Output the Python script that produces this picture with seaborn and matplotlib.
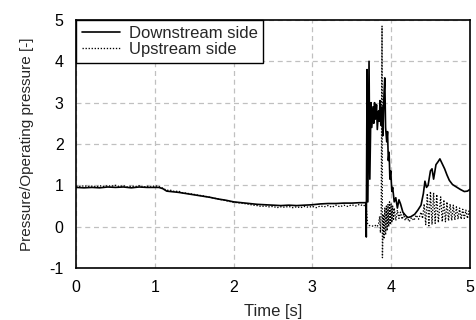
import matplotlib
matplotlib.use("Agg")
import matplotlib.pyplot as plt
import seaborn as sns
import pandas as pd

# Downstream side pressure ratio (time [s], value [-])
down_t = [0.00, 0.10, 0.20, 0.30, 0.40, 0.50, 0.60, 0.70, 0.80, 0.90, 1.00, 1.05,
          1.10, 1.15, 1.20, 1.30, 1.40, 1.50, 1.60, 1.70, 1.80, 1.90, 2.00, 2.10,
          2.20, 2.30, 2.40, 2.50, 2.60, 2.70, 2.80, 2.90, 3.00, 3.10, 3.20, 3.30,
          3.40, 3.50, 3.60, 3.68,
          3.685, 3.695, 3.705, 3.72, 3.73, 3.745, 3.755, 3.77, 3.78, 3.79, 3.80,
          3.815, 3.825, 3.84, 3.85, 3.86, 3.87, 3.885, 3.895, 3.91, 3.92, 3.93,
          3.945, 3.955, 3.965, 3.975, 3.985, 3.995, 4.01, 4.02, 4.04, 4.06, 4.08,
          4.10, 4.12, 4.15, 4.18, 4.21, 4.25, 4.30, 4.34, 4.38, 4.41, 4.43, 4.45,
          4.47, 4.50, 4.52, 4.54, 4.57, 4.60, 4.62, 4.65, 4.68, 4.71, 4.74, 4.78,
          4.83, 4.88, 4.93, 4.97, 5.00]
down_v = [0.95, 0.94, 0.95, 0.94, 0.96, 0.95, 0.96, 0.94, 0.96, 0.95, 0.95, 0.95,
          0.92, 0.86, 0.85, 0.83, 0.80, 0.77, 0.74, 0.71, 0.67, 0.64, 0.60, 0.58,
          0.56, 0.54, 0.53, 0.52, 0.51, 0.52, 0.51, 0.52, 0.53, 0.55, 0.56, 0.56,
          0.57, 0.57, 0.58, 0.58,
          -0.25, 3.80, 0.60, 4.00, 1.15, 3.00, 2.40, 2.90, 2.50, 3.00, 2.60,
          2.95, 2.35, 2.80, 2.55, 3.05, 2.45, 2.90, 2.20, 3.20, 3.60, 2.40,
          2.05, 2.30, 1.60, 1.80, 1.15, 1.35, 0.85, 0.95, 0.60, 0.70, 0.45,
          0.65, 0.55, 0.35, 0.28, 0.22, 0.24, 0.30, 0.40, 0.52, 0.80, 1.10, 0.95,
          1.00, 1.35, 1.40, 1.15, 1.50, 1.58, 1.64, 1.52, 1.40, 1.25, 1.12, 1.02,
          0.96, 0.90, 0.85, 0.86, 0.90]

# Upstream side pressure ratio (time [s], value [-])
up_t = [0.00, 0.05, 0.10, 0.15, 0.20, 0.25, 0.30, 0.35, 0.40, 0.45, 0.50, 0.55,
        0.60, 0.65, 0.70, 0.75, 0.80, 0.85, 0.90, 0.95, 1.00, 1.05, 1.10, 1.15,
        1.20, 1.25, 1.30, 1.35, 1.40, 1.50, 1.55, 1.60, 1.70, 1.80, 1.90, 2.00,
        2.10, 2.20, 2.25, 2.30, 2.35, 2.40, 2.45, 2.50, 2.55, 2.60, 2.65, 2.70,
        2.75, 2.80, 2.85, 2.90, 2.95, 3.00, 3.05, 3.10, 3.15, 3.20, 3.25, 3.30,
        3.35, 3.40, 3.45, 3.50, 3.55, 3.60, 3.65, 3.68,
        3.69, 3.70, 3.72, 3.75, 3.78, 3.80, 3.82, 3.84, 3.855, 3.865, 3.875,
        3.885, 3.89, 3.90, 3.91, 3.92, 3.93, 3.94, 3.95, 3.96, 3.97, 3.98, 3.99,
        4.00, 4.01, 4.02, 4.03, 4.04, 4.06, 4.08, 4.10, 4.12, 4.14, 4.16, 4.18,
        4.20, 4.23, 4.26, 4.29, 4.32, 4.35, 4.38, 4.40, 4.42, 4.44, 4.46, 4.48,
        4.50, 4.52, 4.54, 4.56, 4.58, 4.60, 4.63, 4.65, 4.67, 4.69, 4.71, 4.73,
        4.75, 4.77, 4.79, 4.81, 4.83, 4.85, 4.87, 4.89, 4.91, 4.93, 4.95, 4.97,
        4.99, 5.00]
up_v = [0.98, 0.97, 0.99, 0.97, 0.98, 0.96, 0.99, 0.97, 0.99, 0.98, 1.00, 0.97,
        0.99, 0.96, 0.98, 0.97, 0.99, 0.95, 0.98, 0.96, 0.99, 0.97, 0.93, 0.88,
        0.88, 0.85, 0.86, 0.82, 0.81, 0.78, 0.76, 0.75, 0.71, 0.67, 0.63, 0.59,
        0.57, 0.54, 0.52, 0.51, 0.49, 0.50, 0.48, 0.49, 0.46, 0.48, 0.47, 0.49,
        0.46, 0.48, 0.46, 0.49, 0.47, 0.49, 0.46, 0.50, 0.48, 0.51, 0.47, 0.52,
        0.48, 0.52, 0.49, 0.53, 0.50, 0.54, 0.50, 0.54,
        0.35, 0.08, 0.03, 0.02, 0.01, 0.03, 0.00, 0.05, 0.25, -0.15, 0.40,
        4.85, -0.75, 0.30, -0.30, 0.45, -0.20, 0.50, -0.10, 0.55, 0.00, 0.60, 0.05,
        0.55, 0.10, 0.50, 0.15, 0.45, 0.15, 0.40, 0.20, 0.35, 0.18, 0.30, 0.15,
        0.25, 0.12, 0.22, 0.15, 0.28, 0.18, 0.35, 0.20, 0.55, 0.05, 0.80, 0.02,
        0.85, 0.05, 0.82, 0.08, 0.78, 0.10, 0.72, 0.12, 0.65, 0.12, 0.60, 0.14,
        0.55, 0.15, 0.52, 0.16, 0.48, 0.18, 0.45, 0.18, 0.42, 0.20, 0.40, 0.20,
        0.38, 0.30]

x_ticks = [0, 1, 2, 3, 4, 5]
y_ticks = [-1, 0, 1, 2, 3, 4, 5]

sns.set_theme(style="white")
plt.rcParams["font.family"] = ["Liberation Sans", "DejaVu Sans"]
plt.rcParams["axes.unicode_minus"] = False

down_df = pd.DataFrame({"t": down_t, "v": down_v})
up_df = pd.DataFrame({"t": up_t, "v": up_v})

fig = plt.figure(figsize=(4.76, 3.2), dpi=100)
ax = fig.add_axes([0.16, 0.1625, 0.827, 0.775])

sns.lineplot(data=down_df, x="t", y="v", ax=ax, color="black", linewidth=1.2,
             linestyle="-", label="Downstream side", sort=False, estimator=None)
sns.lineplot(data=up_df, x="t", y="v", ax=ax, color="black", linewidth=0.95,
             linestyle=(0, (1, 1.3)), label="Upstream side", sort=False, estimator=None)

ax.set_xlim(0, 5)
ax.set_ylim(-1, 5)
ax.set_xticks(x_ticks)
ax.set_yticks(y_ticks)
ax.set_xlabel("Time [s]", fontsize=12, labelpad=6)
ax.set_ylabel("Pressure/Operating pressure [-]", fontsize=11, labelpad=11)
ax.tick_params(axis="both", direction="in", length=3, width=0.8, labelsize=11.5,
               colors="black", pad=9)
ax.grid(True, color="#c0c0c0", linestyle=(0, (4, 3)), linewidth=0.9)
for s in ax.spines.values():
    s.set_color("black")
    s.set_linewidth(1.2)

leg = ax.legend(loc="upper left", borderaxespad=0, fontsize=12, frameon=True,
                fancybox=False, handlelength=2.3, handletextpad=0.5,
                borderpad=0.35, labelspacing=0.05)
leg.get_frame().set_edgecolor("black")
leg.get_frame().set_linewidth(1.0)
leg.get_frame().set_alpha(1.0)

fig.savefig("out.png", dpi=100)
